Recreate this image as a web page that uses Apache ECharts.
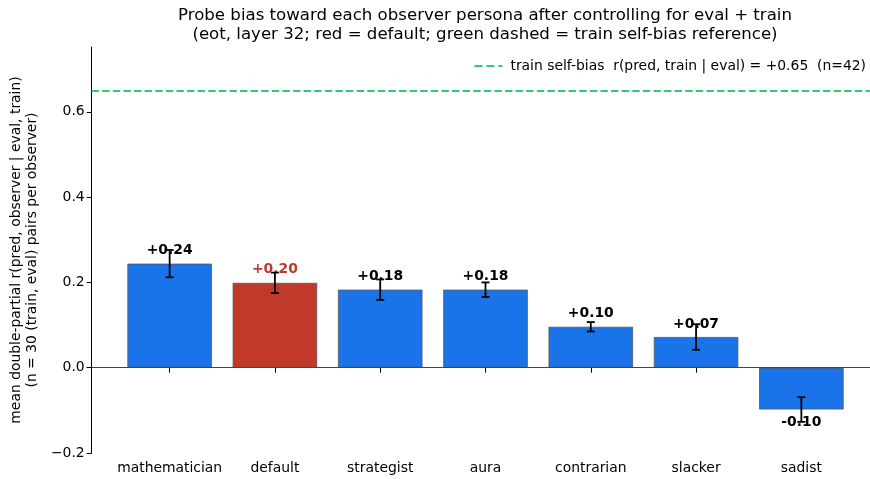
<!DOCTYPE html>
<html>
<head>
<meta charset="utf-8">
<script src="https://cdn.jsdelivr.net/npm/echarts@6/dist/echarts.min.js"></script>
<style>
  html, body { margin: 0; padding: 0; background: #fff; }
  #chart { width: 870px; height: 479px; }
</style>
</head>
<body>
<div id="chart"></div>
<script>
// Observer personas and their mean double-partial correlations
const observers = ['mathematician', 'default', 'strategist', 'aura', 'contrarian', 'slacker', 'sadist'];
const meanR = [0.244, 0.199, 0.183, 0.183, 0.096, 0.072, -0.098];
const errR = [0.032, 0.024, 0.024, 0.017, 0.011, 0.030, 0.029];
const highlighted = 'default';
const trainSelfBias = 0.648;
const yTicks = [-0.2, 0.0, 0.2, 0.4, 0.6];

const FONT = 'DejaVu Sans';
const BLUE = '#1a73e8';
const RED = '#c0392b';
const GREEN = '#2ecc71';
const REF_NAME = 'train self-bias  r(pred, train | eval) = +0.65  (n=42)';

const xIdx = observers.map((_, i) => i);

const fmtSigned = v => (v >= 0 ? '+' : '') + v.toFixed(2);
const fmtTick = v => (v < 0 ? '\u2212' : '') + Math.abs(v).toFixed(1);

const barData = observers.map((name, i) => {
  const isHi = name === highlighted;
  const v = meanR[i];
  return {
    value: [i, v],
    itemStyle: { color: isHi ? RED : BLUE },
    label: {
      color: isHi ? RED : '#000',
      position: v >= 0 ? 'top' : 'bottom'
    }
  };
});

const errData = observers.map((_, i) => [i, meanR[i] - errR[i], meanR[i] + errR[i]]);

const chart = echarts.init(document.getElementById('chart'), null, { renderer: 'canvas' });

chart.setOption({
  animation: false,
  backgroundColor: '#fff',
  textStyle: { fontFamily: FONT },
  title: {
    text: 'Probe bias toward each observer persona after controlling for eval + train\n(eot, layer 32; red = default; green dashed = train self-bias reference)',
    left: 480,
    textAlign: 'center',
    top: 1,
    textStyle: { fontFamily: FONT, fontSize: 16.6, fontWeight: 'normal', color: '#000', lineHeight: 19 }
  },
  legend: {
    data: [{
      name: REF_NAME,
      // dashed line swatch
      icon: 'path://M0,0h8v2h-8z M12,0h8v2h-8z M24,0h4v2h-4z'
    }],
    right: 4,
    top: 59,
    padding: 0,
    itemWidth: 28,
    itemHeight: 2,
    itemGap: 8,
    textStyle: { fontFamily: FONT, fontSize: 13.9, color: '#000', padding: [0, 0, 0, 3] }
  },
  grid: { left: 90, right: 0, top: 47, bottom: 26, containLabel: false },
  xAxis: {
    type: 'value',
    min: -0.741,
    max: 6.652,
    splitLine: { show: false },
    axisLine: { show: true, lineStyle: { color: '#000', width: 1 } },
    axisTick: { show: true, customValues: xIdx, length: 5, lineStyle: { color: '#000' } },
    axisLabel: {
      customValues: xIdx,
      formatter: v => observers[Math.round(v)] || '',
      fontFamily: FONT, fontSize: 13.9, color: '#000', margin: 8
    }
  },
  yAxis: {
    type: 'value',
    min: -0.2,
    max: 0.752,
    splitLine: { show: false },
    axisLine: { show: true, onZero: false, lineStyle: { color: '#000', width: 1 } },
    axisTick: { show: true, customValues: yTicks, length: 5, lineStyle: { color: '#000' } },
    axisLabel: {
      customValues: yTicks,
      formatter: fmtTick,
      fontFamily: FONT, fontSize: 13.9, color: '#000', margin: 7
    },
    name: 'mean double-partial r(pred, observer | eval, train)\n(n = 30 (train, eval) pairs per observer)',
    nameLocation: 'middle',
    nameGap: 45,
    nameTextStyle: { fontFamily: FONT, fontSize: 13.9, color: '#000', lineHeight: 16, align: 'center' }
  },
  series: [
    {
      type: 'bar',
      data: barData,
      barWidth: 84.5,
      itemStyle: { borderColor: '#555', borderWidth: 0.8 },
      label: {
        show: true,
        distance: 6,
        formatter: p => fmtSigned(p.value[1]),
        fontFamily: FONT, fontSize: 13.9, fontWeight: 'bold'
      },
      markLine: {
        silent: true,
        symbol: ['none', 'none'],
        label: { show: false },
        lineStyle: { color: '#444', width: 1, type: 'solid' },
        data: [{ yAxis: 0 }]
      },
      z: 2
    },
    {
      type: 'custom',
      data: errData,
      z: 5,
      renderItem: (params, api) => {
        const x = api.value(0);
        const lo = api.coord([x, api.value(1)]);
        const hi = api.coord([x, api.value(2)]);
        const cap = 4;
        const style = { stroke: '#000', lineWidth: 1.8 };
        return {
          type: 'group',
          children: [
            { type: 'line', shape: { x1: lo[0], y1: lo[1], x2: hi[0], y2: hi[1] }, style },
            { type: 'line', shape: { x1: lo[0] - cap, y1: lo[1], x2: lo[0] + cap, y2: lo[1] }, style },
            { type: 'line', shape: { x1: hi[0] - cap, y1: hi[1], x2: hi[0] + cap, y2: hi[1] }, style }
          ]
        };
      }
    },
    {
      type: 'line',
      name: REF_NAME,
      data: [],
      symbol: 'none',
      lineStyle: { color: GREEN, width: 2, type: [7.4, 3.2] },
      itemStyle: { color: GREEN },
      markLine: {
        silent: true,
        symbol: ['none', 'none'],
        label: { show: false },
        lineStyle: { color: GREEN, width: 2, type: [7.4, 3.2] },
        data: [{ yAxis: trainSelfBias }]
      }
    }
  ]
});
</script>
</body>
</html>
